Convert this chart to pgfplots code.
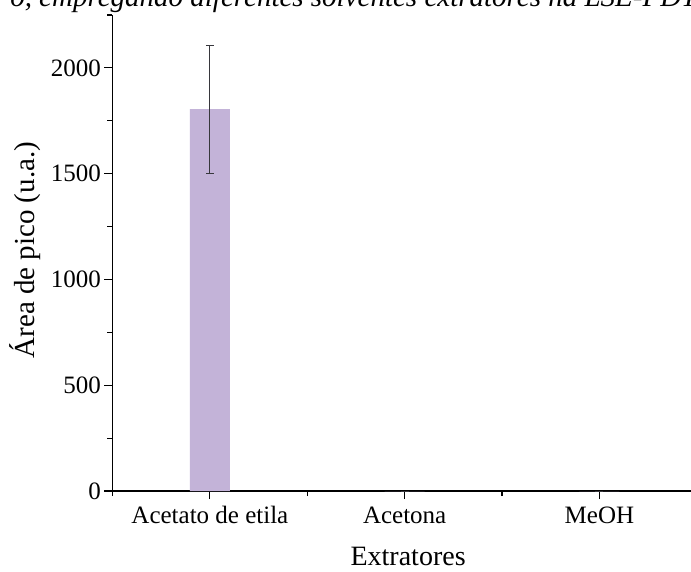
\documentclass[border=0pt]{standalone}
\usepackage{pgfplots}
\pgfplotsset{compat=1.18}
\usepackage{fontspec}
\setmainfont{Liberation Serif}
\definecolor{barc}{RGB}{195,179,216}
\definecolor{errc}{RGB}{55,55,60}
\begin{document}
\begin{tikzpicture}
\path[use as bounding box] (-112.5pt,-80pt) rectangle (578.5pt,491pt);
\begin{axis}[
  scale only axis, width=578.5pt, height=476pt,
  at={(0pt,0pt)}, anchor=south west,
  xmin=-0.5, xmax=2.47, ymin=0, ymax=2250,
  axis x line=bottom, axis y line=left,
  axis line style={-, line width=1.3pt, black},
  xtick={0,1,2}, xticklabels={Acetato de etila, Acetona, MeOH},
  minor xtick={-0.5,0.5,1.5},
  ytick={0,500,1000,1500,2000}, minor ytick={250,750,1250,1750,2250},
  tick align=outside, major tick length=8pt, minor tick length=5pt,
  every tick/.style={line width=1.2pt, black},
  ticklabel style={font=\fontsize{25}{30}\selectfont},
  xticklabel style={yshift=-4pt},
  /pgf/number format/assume math mode=true,
  /pgf/number format/1000 sep={},
  xlabel={Extratores}, ylabel={Área de pico (u.a.)},
  label style={font=\fontsize{28}{32}\selectfont},
  xlabel style={at={(axis description cs:0.511,-0.137)}, anchor=center},
  ylabel style={at={(axis description cs:-0.151,0.506)}, anchor=center, font=\fontsize{29}{33}\selectfont},
  clip=false,
]
\addplot[ybar, bar width=40pt, fill=barc, draw=none,
  error bars/.cd, y dir=both, y explicit,
  error bar style={line width=1pt, errc},
  error mark options={rotate=90, mark size=4pt, line width=1pt, errc}]
  coordinates {(0,1805) +- (0,303) (1,0) +- (0,0) (2,0) +- (0,0)};
\end{axis}
\node[anchor=base east, inner sep=0pt, font=\itshape\fontsize{29}{34}\selectfont] at (585pt,484pt) {o, empregando diferentes solventes extratores na LSE-PDT};
\end{tikzpicture}
\end{document}
